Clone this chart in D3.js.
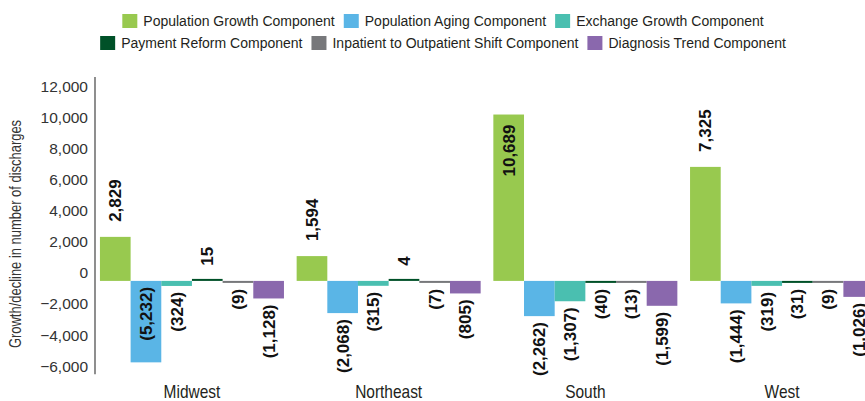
<!DOCTYPE html>
<html><head><meta charset="utf-8">
<script src="https://cdn.jsdelivr.net/npm/d3@7"></script>
<style>
html,body{margin:0;padding:0;background:#fff;}
svg{display:block;}
</style></head>
<body><svg id="chart" width="865" height="401"></svg>
<script>
const regions = ["Midwest", "Northeast", "South", "West"];
const series = ["Population Growth Component", "Population Aging Component", "Exchange Growth Component",
  "Payment Reform Component", "Inpatient to Outpatient Shift Component", "Diagnosis Trend Component"];
const colors = ["#98c94f", "#5ab5e6", "#4abfb0", "#005128", "#77787b", "#8a68ad"];
const popGrowth   = [2829, 1594, 10689, 7325];
const popAging    = [-5232, -2068, -2262, -1444];
const exchGrowth  = [-324, -315, -1307, -319];
const payReform   = [15, 4, -40, -31];
const ipOpShift   = [-9, -7, -13, -9];
const diagTrend   = [-1128, -805, -1599, -1026];
const yTicks = [-6000, -4000, -2000, 0, 2000, 4000, 6000, 8000, 10000, 12000];

const seriesValues = [popGrowth, popAging, exchGrowth, payReform, ipOpShift, diagTrend];
const svg = d3.select("#chart");
const FONT = "Liberation Sans, Arial, sans-serif";

const y = d3.scaleLinear().domain([-6000, 13100]).range([374.3, 77]);
const x0 = d3.scaleBand().domain(regions).range([93.6, 880.4]).paddingInner(0.0645).paddingOuter(0.03225);
const x1 = d3.scaleBand().domain(series).range([0, x0.bandwidth()]);

// axis
const axisG = svg.append("g").attr("transform", "translate(95,0)");
axisG.call(d3.axisLeft(y).tickValues(yTicks).tickSize(0).tickPadding(7).tickFormat(d3.format(",")));
axisG.select(".domain").attr("stroke", "#444").attr("stroke-width", 1.2).attr("d", `M0,${y(13100)}V${y(-6000)}`);
axisG.selectAll(".tick text").attr("font-family", FONT)
  .attr("font-size", 15.5).attr("fill", "#333").attr("dy", "-0.2em");

// y title (condensed look)
svg.append("text")
  .attr("transform", `translate(21,234) rotate(-90) scale(0.81,1)`)
  .attr("text-anchor", "middle")
  .attr("font-family", FONT)
  .attr("font-size", 16).attr("fill", "#333")
  .text("Growth/decline in number of discharges");

// bars
const data = [];
regions.forEach((r, i) => series.forEach((s, j) => data.push({region: r, series: s, value: seriesValues[j][i], color: colors[j]})));

const minH = 2;
svg.append("g").selectAll("rect").data(data).join("rect")
  .attr("x", d => x0(d.region) + x1(d.series))
  .attr("width", x1.bandwidth())
  .attr("y", d => {
    const h = Math.max(minH, Math.abs(y(d.value) - y(0)));
    return d.value >= 0 ? y(0) - h : y(0);
  })
  .attr("height", d => Math.max(minH, Math.abs(y(d.value) - y(0))))
  .attr("fill", d => d.color);

// value labels
const fmt = v => v < 0 ? "(" + d3.format(",")(-v) + ")" : d3.format(",")(v);
const lbl = svg.append("g").selectAll("text").data(data).join("text")
  .attr("font-family", FONT)
  .attr("font-weight", "bold").attr("font-size", 17).attr("fill", "#111")
  .attr("dy", "0.35em")
  .text(d => fmt(d.value));
lbl.each(function(d) {
  const len = this.getComputedTextLength();
  const cx = x0(d.region) + x1(d.series) + x1.bandwidth() / 2;
  let yy, anchor;
  if (d.value >= 0) {
    yy = y(d.value) - 15; anchor = "start";
    if (yy - len < 60) { yy = y(d.value) + 10; anchor = "end"; }
  } else {
    const bottom = Math.max(y(d.value), y(0) + minH);
    yy = bottom + 6; anchor = "end";
    if (yy + len > 390) { yy = y(0) + 6; }
  }
  d3.select(this).attr("text-anchor", anchor).attr("transform", `translate(${cx},${yy}) rotate(-90)`);
});

// category labels (condensed look)
svg.append("g").selectAll("text").data(regions).join("text")
  .attr("transform", d => `translate(${x0(d) + x0.bandwidth() / 2},398) scale(0.86,1)`)
  .attr("text-anchor", "middle")
  .attr("font-family", FONT)
  .attr("font-size", 18).attr("fill", "#231f20")
  .text(d => d);

// legend
const rows = [[0, 1, 2], [3, 4, 5]];
const rowY = [14, 36];
const legendCenter = 443;
rows.forEach((row, ri) => {
  const g = svg.append("g");
  let xPos = 0;
  row.forEach((si, k) => {
    const it = g.append("g").attr("transform", `translate(${xPos},0)`);
    it.append("rect").attr("x", 0).attr("y", rowY[ri]).attr("width", 15).attr("height", 14).attr("fill", colors[si]);
    const t = it.append("text").attr("x", 21).attr("y", rowY[ri] + 12)
      .attr("font-family", FONT).attr("font-size", 14).attr("fill", "#231f20")
      .text(series[si]);
    xPos += 21 + t.node().getComputedTextLength() + 9;
  });
  const total = xPos - 9;
  g.attr("transform", `translate(${legendCenter - total / 2},0)`);
});
</script></body></html>
